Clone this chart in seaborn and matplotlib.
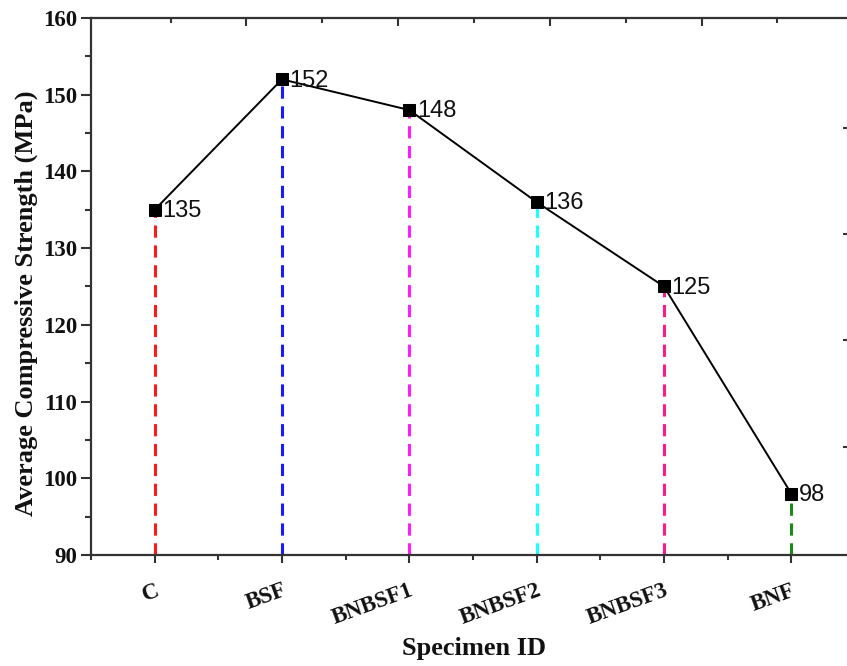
import matplotlib
matplotlib.use("Agg")
import matplotlib.pyplot as plt
import seaborn as sns
import pandas as pd

specimens = ["C", "BSF", "BNBSF1", "BNBSF2", "BNBSF3", "BNF"]
strength = [135, 152, 148, 136, 125, 98]
drop_colors = ["#ff1a1a", "#1a1aff", "#ff1aff", "#1affff", "#ff1a8c", "#1a8a1a"]
y_ticks = [90, 100, 110, 120, 130, 140, 150, 160]

sns.set_theme(style="white")
plt.rcParams["font.family"] = ["Liberation Serif", "DejaVu Serif"]

df = pd.DataFrame({"pos": range(len(specimens)), "specimen": specimens, "strength": strength})

fig = plt.figure(figsize=(8.47, 6.66), dpi=100)
ax = fig.add_axes([0.1074, 0.1667, 0.9020, 0.8063])

# drop lines
ax.vlines(df["pos"], 90, df["strength"], colors=drop_colors, linestyles=(0, (4, 2.5)),
          linewidth=2.2, zorder=1)

sns.lineplot(data=df, x="pos", y="strength", color="black", linewidth=1.4,
             marker="s", markersize=8, markeredgecolor="black", markerfacecolor="black",
             ax=ax, zorder=3)

for p, v in zip(df["pos"], df["strength"]):
    ax.annotate(str(v), (p, v), xytext=(5.5, -1), textcoords="offset points",
                ha="left", va="center", fontsize=17, family=["Liberation Sans", "DejaVu Sans"],
                color="#111111")

ax.set_xlim(-0.5, 5.5)
ax.set_ylim(90, 160)
ax.set_xticks(df["pos"])
ax.set_xticklabels(specimens, rotation=20, ha="right", va="top", rotation_mode="anchor",
                   fontsize=16.5, fontweight="bold", color="#111111")
ax.set_xticks([i + 0.5 for i in range(-1, 6)], minor=True)
ax.set_yticks(y_ticks)
ax.set_yticklabels([str(t) for t in y_ticks], fontsize=16.5, fontweight="bold", color="#111111")
ax.set_yticks(list(range(95, 160, 10)), minor=True)

ax.tick_params(axis="x", which="major", direction="out", length=6, width=1.5,
               color="#333333", bottom=True, pad=12)
ax.tick_params(axis="x", which="minor", direction="out", length=3.5, width=1.5,
               color="#333333", bottom=True)
ax.tick_params(axis="y", which="major", direction="out", length=7, width=1.5,
               color="#333333", left=True, pad=3)
ax.tick_params(axis="y", which="minor", direction="out", length=4, width=1.5,
               color="#333333", left=True)

for s in ax.spines.values():
    s.set_linewidth(1.6)
    s.set_color("#333333")
    s.set_visible(True)

ax.set_xlabel("Specimen ID", fontsize=19, fontweight="bold", color="#111111", va="top")
ax.xaxis.set_label_coords(0.502, -0.152)
ax.set_ylabel("Average Compressive Strength (MPa)", fontsize=19, fontweight="bold",
              color="#111111")
ax.yaxis.set_label_coords(-0.069, 0.469)

# top axis ticks (inward)
top = ax.secondary_xaxis("top")
top.set_xticks([0.721, 1.912, 3.103, 4.295])
top.set_xticks([0.125, 1.316, 2.508, 3.70, 4.89], minor=True)
top.set_xticklabels([])
top.tick_params(which="major", direction="in", length=6, width=1.5, color="#333333")
top.tick_params(which="minor", direction="in", length=3.5, width=1.5, color="#333333")
top.spines["top"].set_visible(False)

# right axis ticks (inward)
right = ax.secondary_yaxis("right")
right.set_yticks([145.66, 131.84, 118.02, 104.07])
right.set_yticklabels([])
right.tick_params(direction="in", length=9, width=1.5, color="#333333")
right.spines["right"].set_visible(False)

fig.savefig("out.png", dpi=100)
